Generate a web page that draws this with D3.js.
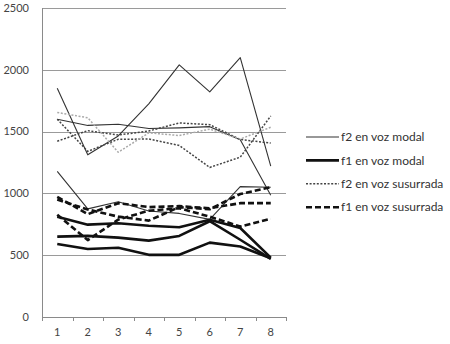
<!DOCTYPE html>
<html>
<head>
<meta charset="utf-8">
<script src="https://cdn.jsdelivr.net/npm/d3@7"></script>
<style>
  body { margin: 0; background: #fff; }
  svg { display: block; font-family: Lato, "Open Sans", sans-serif; }
</style>
</head>
<body>
<div id="chart"></div>
<script>
const width = 450;
const height = 344;
const margin = {top: 8, left: 42, bottom: 27, right: 164};

const categories = ["1", "2", "3", "4", "5", "6", "7", "8"];
const yTicks = [0, 500, 1000, 1500, 2000, 2500];

// f2 en voz modal (thin solid)
const f2Modal = [
  [1850, 1312, 1465, 1725, 2040, 1822, 2098, 1220],
  [1600, 1550, 1560, 1525, 1530, 1540, 1434, 985],
  [1178, 875, 932, 858, 838, 790, 1055, 1050]
];
// f1 en voz modal (thick solid)
const f1Modal = [
  [590, 550, 560, 503, 503, 602, 570, 475],
  [650, 656, 642, 618, 656, 775, 625, 470],
  [812, 747, 759, 738, 726, 786, 720, 480]
];
// f2 en voz susurrada (dotted)
const f2Sus = [
  [1422, 1508, 1472, 1505, 1570, 1556, 1436, 1407],
  [1600, 1340, 1438, 1440, 1388, 1210, 1293, 1626],
  [1655, 1612, 1333, 1490, 1468, 1520, 1440, 1535]
];
// f1 en voz susurrada (dashed)
const f1Sus = [
  [972, 832, 921, 889, 897, 880, 921, 921],
  [950, 870, 812, 780, 889, 872, 995, 1050],
  [828, 622, 788, 860, 880, 812, 732, 795]
];

const legendLabels = ["f2 en voz modal", "f1 en voz modal", "f2 en voz susurrada", "f1 en voz susurrada"];

const styles = [
  {width: 1.1, dash: null, color: "#333"},
  {width: 2.6, dash: null, color: "#111"},
  {width: 1.5, dash: "2,1.6", color: "#444"},
  {width: 2.6, dash: "6,3", color: "#111"}
];
const groups = [f2Modal, f1Modal, f2Sus, f1Sus];
// the third whispered f2 series is printed lighter in the source
const greyF2Sus = 2;

const x = d3.scaleBand()
  .domain(categories)
  .range([margin.left, width - margin.right])
  .paddingInner(0)
  .paddingOuter(0);

const y = d3.scaleLinear()
  .domain([0, 2500])
  .range([height - margin.bottom, margin.top]);

const svg = d3.create("svg")
  .attr("width", width)
  .attr("height", height)
  .attr("viewBox", [0, 0, width, height]);

// gridlines
svg.append("g")
  .selectAll("line")
  .data(yTicks.filter(d => d > 0))
  .join("line")
    .attr("x1", margin.left)
    .attr("x2", width - margin.right)
    .attr("y1", d => Math.round(y(d)) + 0.5)
    .attr("y2", d => Math.round(y(d)) + 0.5)
    .attr("stroke", "#9a9a9a")
    .attr("stroke-width", 1);

// y labels
svg.append("g")
  .selectAll("text")
  .data(yTicks)
  .join("text")
    .attr("x", 29)
    .attr("y", d => y(d))
    .attr("dy", "0.35em")
    .attr("text-anchor", "end")
    .attr("font-size", 11)
    .attr("fill", "#444")
    .text(d => d);

// axes lines
const x0 = x.range()[0], x1 = x.range()[1];
svg.append("line")
  .attr("x1", x0 + 0.5).attr("x2", x0 + 0.5)
  .attr("y1", y(2500)).attr("y2", y(0))
  .attr("stroke", "#8a8a8a");
svg.append("line")
  .attr("x1", x0).attr("x2", x1)
  .attr("y1", Math.round(y(0)) + 0.5).attr("y2", Math.round(y(0)) + 0.5)
  .attr("stroke", "#8a8a8a");

// x ticks at band edges
const edges = categories.map(c => x(c)).concat([x1]);
svg.append("g")
  .selectAll("line")
  .data(edges)
  .join("line")
    .attr("x1", d => Math.round(d) + 0.5)
    .attr("x2", d => Math.round(d) + 0.5)
    .attr("y1", Math.round(y(0)))
    .attr("y2", Math.round(y(0)) + 4)
    .attr("stroke", "#8a8a8a");

// x labels
svg.append("g")
  .selectAll("text")
  .data(categories)
  .join("text")
    .attr("x", d => x(d) + x.bandwidth() / 2)
    .attr("y", height - 8)
    .attr("text-anchor", "middle")
    .attr("font-size", 11)
    .attr("fill", "#444")
    .text(d => d);

const line = d3.line()
  .x((d, i) => x(categories[i]) + x.bandwidth() / 2)
  .y(d => y(d));

// series
groups.forEach((series, g) => {
  const st = styles[g];
  svg.append("g")
    .selectAll("path")
    .data(series)
    .join("path")
      .attr("d", line)
      .attr("fill", "none")
      .attr("stroke", (d, i) => (g === 2 && i === greyF2Sus) ? "#aaa" : st.color)
      .attr("stroke-width", st.width)
      .attr("stroke-dasharray", st.dash)
      .attr("stroke-linejoin", "round");
});

// legend
const legend = svg.append("g")
  .attr("transform", "translate(306, 137)");
const rows = legend.selectAll("g")
  .data(legendLabels)
  .join("g")
    .attr("transform", (d, i) => `translate(0, ${i * 23.4})`);
rows.append("line")
  .attr("x1", 0).attr("x2", 33)
  .attr("stroke", (d, i) => styles[i].color)
  .attr("stroke-width", (d, i) => styles[i].width)
  .attr("stroke-dasharray", (d, i) => styles[i].dash);
rows.append("text")
  .attr("x", 35)
  .attr("dy", "0.35em")
  .attr("font-size", 12)
  .attr("fill", "#333")
  .text(d => d);

document.getElementById("chart").appendChild(svg.node());
</script>
</body>
</html>
